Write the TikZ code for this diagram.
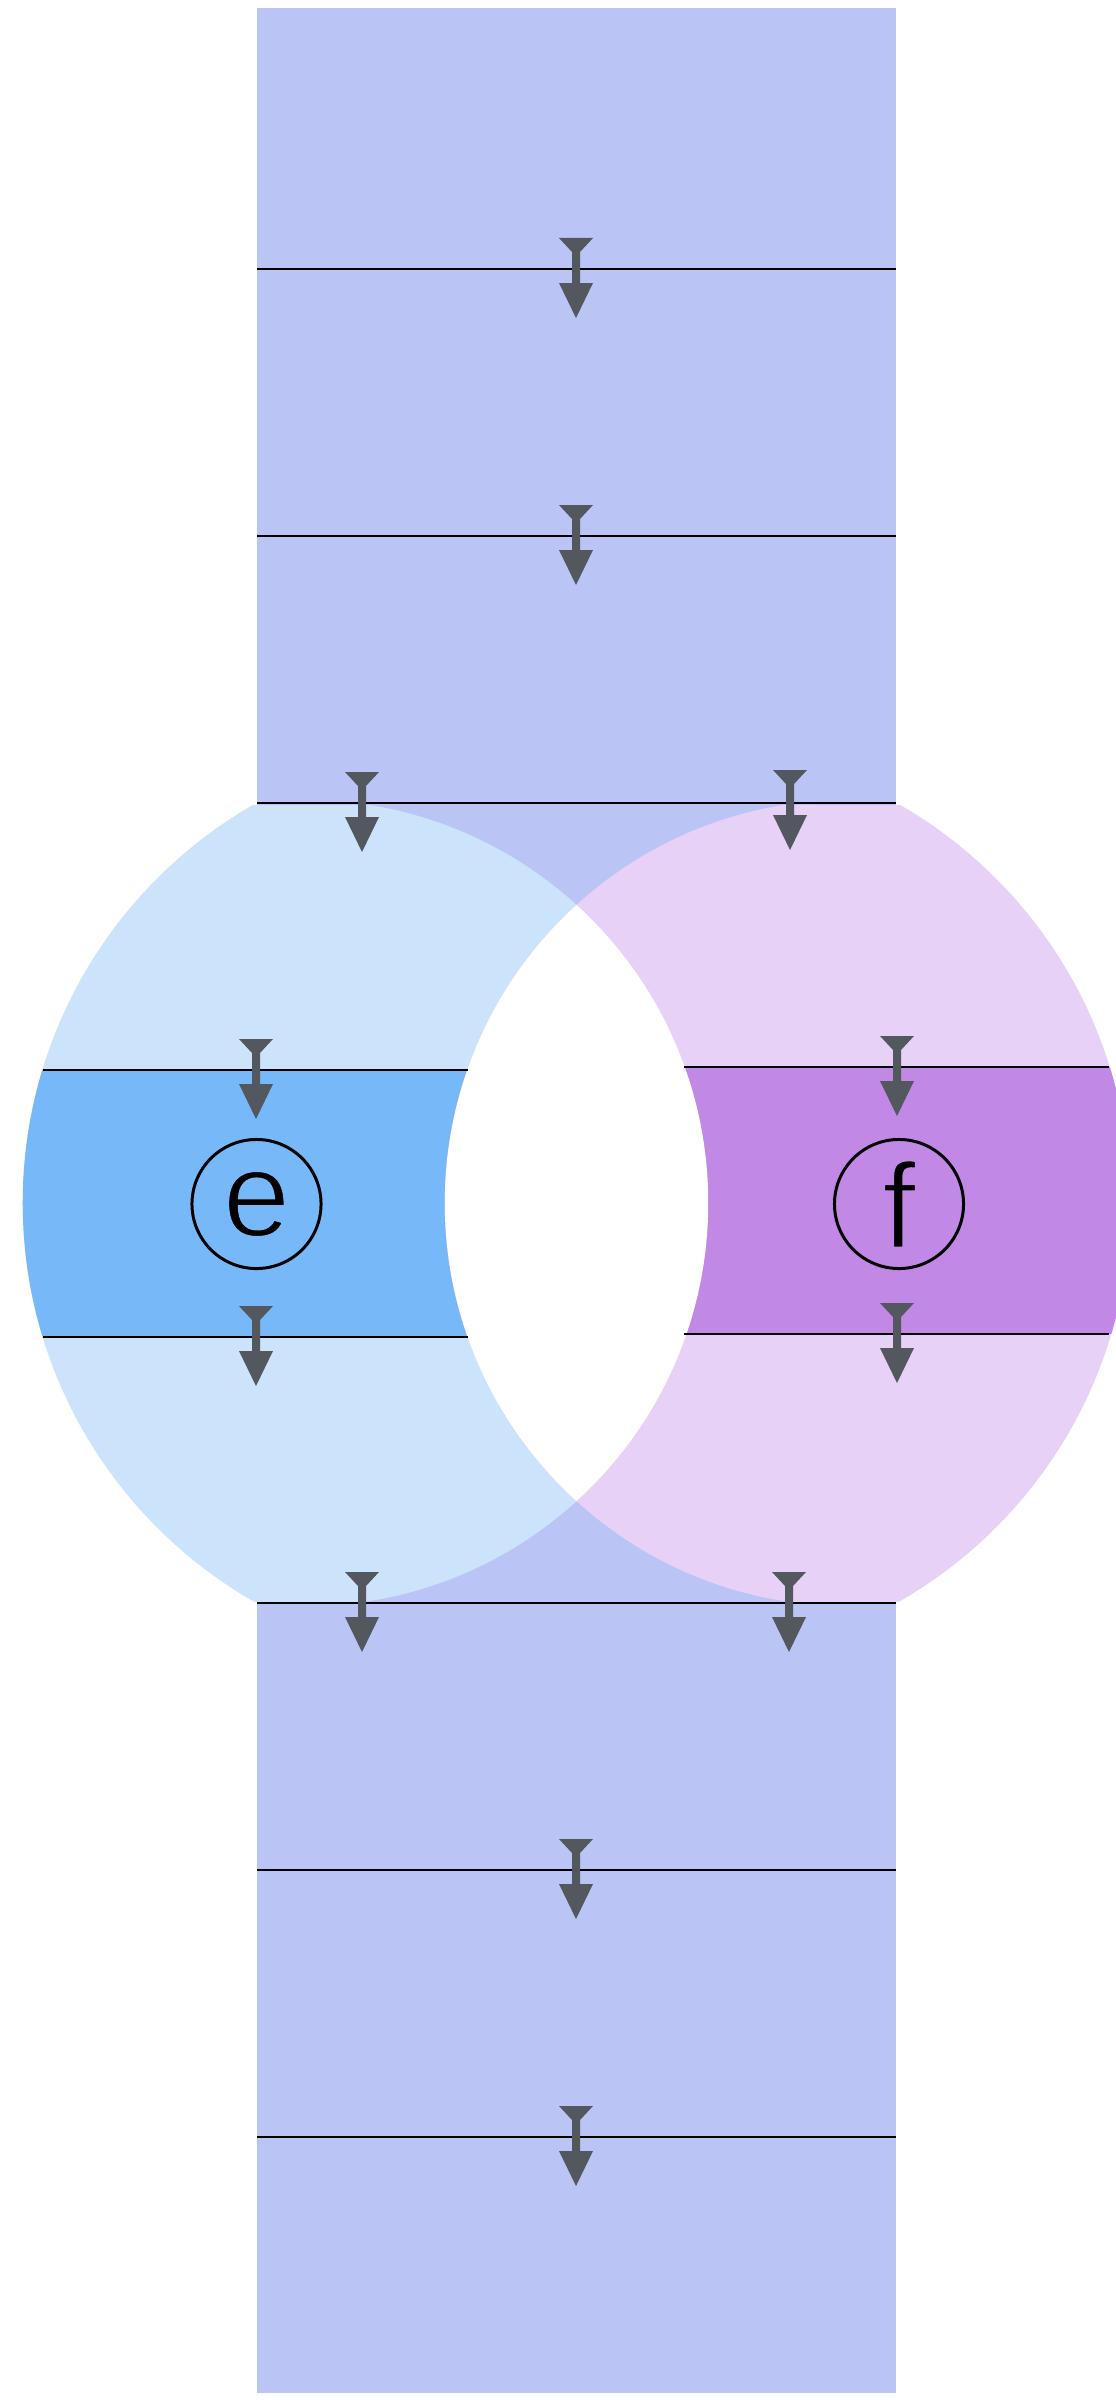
\documentclass[tikz,border=0pt]{standalone}
\usepackage{fontspec}
\setmainfont{Liberation Sans}
\definecolor{rectblue}{HTML}{BBC5F5}
\definecolor{lblue}{HTML}{CCE4FB}
\definecolor{dblue}{HTML}{77B9F8}
\definecolor{lpink}{HTML}{E7D1F6}
\definecolor{dpurple}{HTML}{C188E6}
\definecolor{markgray}{HTML}{53575E}
% thin the glyph outline by stroking it in the colour behind it
\newcommand{\thinglyph}[2]{\special{pdf:code q 2 Tr 0.7 w #1 RG}#2\special{pdf:code Q}}
\begin{document}
\begin{tikzpicture}[x=0.01cm,y=-0.01cm,
  rule/.style={black, line width=0.75pt},
  letterring/.style={circle, draw=black, line width=0.85pt, minimum size=1.29cm,
    inner sep=0pt, font=\fontsize{34.5}{40}\selectfont},
  flowmark/.pic={\fill[markgray] (-17,-31) -- (17,-31) -- (4,-17) -- (4,14) -- (17,14)
    -- (0,49) -- (-17,14) -- (-4,14) -- (-4,-17) -- cycle;}
]
\useasboundingbox (0,0) rectangle (1116,2400);
\clip (0,0) rectangle (1116,2400);
\fill[white] (0,0) rectangle (1116,2400);
% central strip
\fill[rectblue] (257,8) rectangle (896,2393);
% left crescent
\begin{scope}
  \clip (0,805) rectangle (1116,1601);
  \clip (481.9,1203) circle[radius=4.589cm];
  \fill[lblue] (305.1,1203) circle[radius=4.029cm];
  \clip (305.1,1203) circle[radius=4.029cm];
  \fill[dblue] (0,1070) rectangle (1116,1337);
\end{scope}
% right crescent
\begin{scope}
  \clip (0,805) rectangle (1116,1601);
  \clip (671.1,1203) circle[radius=4.589cm];
  \fill[lpink] (847.9,1203) circle[radius=4.029cm];
  \clip (847.9,1203) circle[radius=4.029cm];
  \fill[dpurple] (0,1067) rectangle (1116,1334);
\end{scope}
% overlap
\begin{scope}
  \clip (305.1,1203) circle[radius=4.029cm];
  \fill[white] (847.9,1203) circle[radius=4.029cm];
\end{scope}
% rules across the strip
\foreach \yy [count=\i] in {269,536,803,1603,1870,2137}{
  \coordinate (sl\i) at (257,\yy);
  \coordinate (sr\i) at (896,\yy);
  \draw[rule] (sl\i) -- (sr\i);
}
% rules across the bands
\coordinate (la1) at (42.7,1070);  \coordinate (lb1) at (467.6,1070);
\coordinate (la2) at (43.0,1337);  \coordinate (lb2) at (467.9,1337);
\coordinate (ra1) at (684.4,1067); \coordinate (rb1) at (1109.4,1067);
\coordinate (ra2) at (684.4,1334); \coordinate (rb2) at (1109.4,1334);
\draw[rule] (la1) -- (lb1);
\draw[rule] (la2) -- (lb2);
\draw[rule] (ra1) -- (rb1);
\draw[rule] (ra2) -- (rb2);
% flow markers
\pic (m1) at (576,269) {flowmark};
\pic (m2) at (576,536) {flowmark};
\pic (m3) at (362,803) {flowmark};
\pic (m4) at (790,801) {flowmark};
\pic (m5) at (256,1070) {flowmark};
\pic (m6) at (897,1067) {flowmark};
\pic (m7) at (256,1337) {flowmark};
\pic (m8) at (897,1334) {flowmark};
\pic (m9) at (362,1603) {flowmark};
\pic (m10) at (789,1603) {flowmark};
\pic (m11) at (576,1870) {flowmark};
\pic (m12) at (576,2137) {flowmark};
% labels
\node[letterring] (e) at (256.5,1204) {\thinglyph{0.467 0.725 0.973}{e}};
\node[letterring] (f) at (899,1204) {\thinglyph{0.757 0.533 0.902}{f}};
\end{tikzpicture}
\end{document}
